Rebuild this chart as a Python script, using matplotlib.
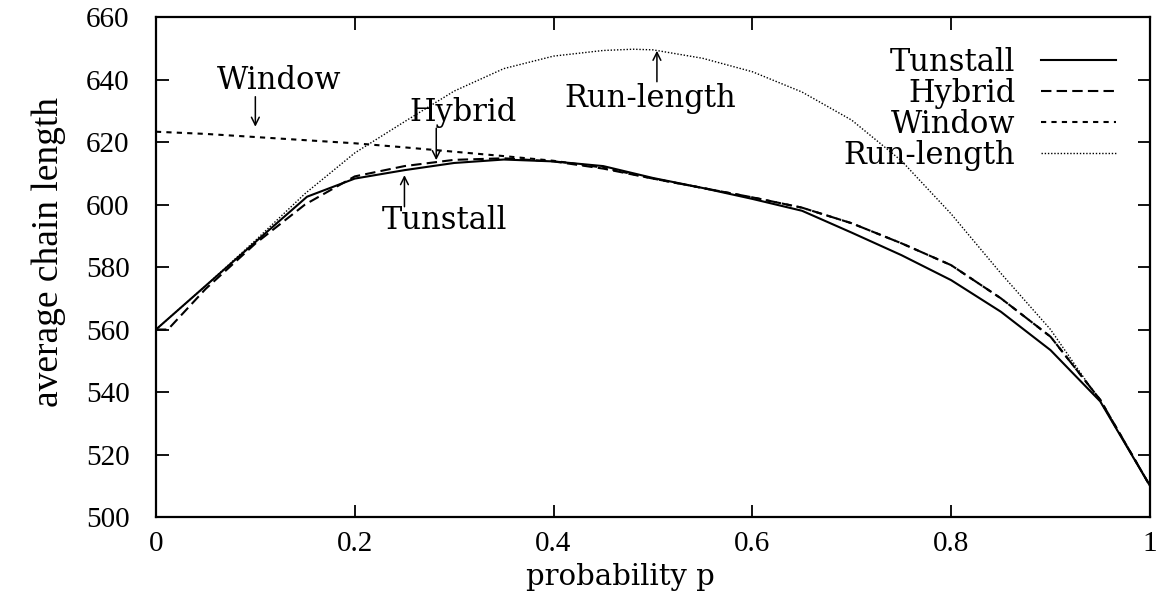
import matplotlib
matplotlib.use("Agg")
import matplotlib.pyplot as plt

p = [0.0, 0.05, 0.1, 0.152, 0.2, 0.25, 0.3, 0.35, 0.4, 0.45, 0.5, 0.55, 0.6, 0.65, 0.7, 0.75, 0.8, 0.85, 0.9, 0.95, 1.0]
tunstall = [560, 574, 588, 602.5, 608.3, 611, 613.3, 614.4, 613.8, 612.3, 608.5, 605.3, 601.8, 598, 591, 583.8, 575.8, 565.7, 553.4, 537, 510]

hybrid_p = [0.0, 0.012, 0.05, 0.1, 0.15, 0.2, 0.25, 0.3, 0.35, 0.4, 0.45, 0.5, 0.55, 0.6, 0.65, 0.7, 0.75, 0.8, 0.85, 0.9, 0.95, 1.0]
hybrid = [560, 560, 573, 587.5, 600, 609, 612.3, 614.3, 614.8, 613.8, 611.5, 608.3, 605.3, 602.3, 599, 594, 587.6, 580.6, 570, 557.7, 537.5, 510]

window_p = [0.0, 0.05, 0.1, 0.15, 0.2, 0.25, 0.3, 0.35, 0.4, 0.45, 0.5, 0.55, 0.6, 0.65, 0.7, 0.75, 0.8, 0.85, 0.9, 0.95, 1.0]
window = [623.3, 622.6, 621.6, 620.6, 619.6, 618.3, 616.9, 615.5, 614, 611.8, 608.3, 605.3, 602.3, 599, 594, 587.6, 580.6, 570, 557.7, 537.5, 510]

run_p = [0.0, 0.05, 0.1, 0.15, 0.2, 0.25, 0.3, 0.35, 0.4, 0.45, 0.48, 0.5, 0.55, 0.6, 0.65, 0.7, 0.75, 0.8, 0.85, 0.9, 0.95, 1.0]
runlength = [560, 574, 588.5, 603.5, 616.5, 626.5, 636.3, 643.5, 647.5, 649.3, 649.7, 649.5, 646.8, 642.5, 636, 627, 614, 597, 578, 560, 537, 510]

xticks = [0, 0.2, 0.4, 0.6, 0.8, 1]
xticklabels = ["0", "0.2", "0.4", "0.6", "0.8", "1"]
yticks = [500, 520, 540, 560, 580, 600, 620, 640, 660]

plt.rcParams['font.family'] = ['DejaVu Serif', 'DejaVu Sans']

fig = plt.figure(figsize=(11.69, 6.0), dpi=100)
ax = fig.add_axes([0.1334, 0.1383, 0.8503, 0.8333])

lw = 1.5
ax.plot(p, tunstall, color='black', lw=lw, ls='-', label='Tunstall')
ax.plot(hybrid_p, hybrid, color='black', lw=lw, ls=(0, (5, 2.5)), label='Hybrid')
ax.plot(window_p, window, color='black', lw=lw, ls=(0, (2.5, 2.5)), label='Window')
ax.plot(run_p, runlength, color='black', lw=1.0, ls=(0, (1, 1.3)), label='Run-length')

ax.set_xlim(0, 1)
ax.set_ylim(500, 660)
ax.set_xticks(xticks)
ax.set_xticklabels(xticklabels)
ax.set_yticks(yticks)
ax.tick_params(direction='in', length=9, width=1.3, top=True, right=True, labelsize=21)
ax.tick_params(axis='x', pad=10)
ax.tick_params(axis='y', pad=19)
for lab in ax.get_xticklabels() + ax.get_yticklabels():
    lab.set_family(['Liberation Serif', 'DejaVu Serif'])
for s in ax.spines.values():
    s.set_linewidth(1.6)

ax.set_xlabel('probability p', fontsize=21)
ax.xaxis.set_label_coords(0.467, -0.092)
ax.set_ylabel('average chain length', fontsize=27, family=['Liberation Serif', 'DejaVu Serif'])
ax.yaxis.set_label_coords(-0.09, 0.53)

ann = dict(arrowstyle='->', lw=1.1, color='black', shrinkA=0, shrinkB=0,
           mutation_scale=14)
fs = 22
ax.annotate('', xy=(0.10, 624.9), xytext=(0.10, 634.5), arrowprops=ann)
ax.text(0.124, 639.8, 'Window', ha='center', va='center', fontsize=fs)
ax.annotate('', xy=(0.282, 614.2), xytext=(0.282, 624.4), arrowprops=ann)
ax.text(0.309, 629.6, 'Hybrid', ha='center', va='center', fontsize=fs)
ax.annotate('', xy=(0.25, 609.4), xytext=(0.25, 599.3), arrowprops=ann)
ax.text(0.29, 595.0, 'Tunstall', ha='center', va='center', fontsize=fs)
ax.annotate('', xy=(0.504, 649.2), xytext=(0.504, 639.3), arrowprops=ann)
ax.text(0.497, 634.0, 'Run-length', ha='center', va='center', fontsize=fs)

leg = ax.legend(loc='upper right', frameon=False, markerfirst=False, fontsize=fs,
                handlelength=2.45, handletextpad=0.85, labelspacing=0.0,
                borderpad=0, borderaxespad=0,
                bbox_to_anchor=(0.966, 0.94))

fig.savefig('out.png', dpi=100)
